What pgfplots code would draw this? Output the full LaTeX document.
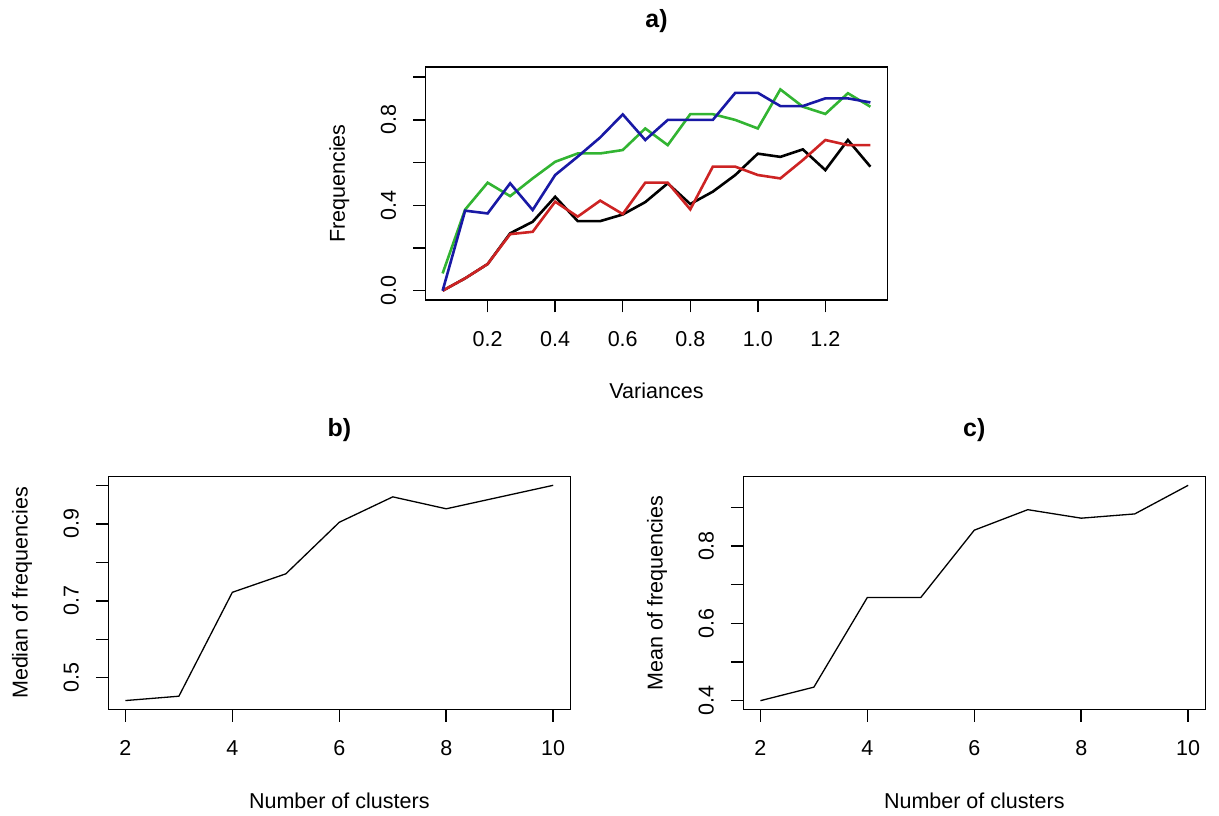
\documentclass[border=0pt]{standalone}
\usepackage{pgfplots}
\pgfplotsset{compat=1.18}
\usepackage{fontspec}
\setmainfont{Liberation Sans}
\definecolor{rred}{RGB}{205,35,35}
\definecolor{rgreen}{RGB}{50,180,50}
\definecolor{rblue}{RGB}{25,25,165}

\pgfplotstableread{
x black red green blue
0.0667 0.000 0.000 0.081 0.000
0.1333 0.058 0.058 0.380 0.375
0.2000 0.125 0.125 0.506 0.362
0.2667 0.269 0.265 0.443 0.503
0.3333 0.323 0.276 0.526 0.378
0.4000 0.440 0.417 0.604 0.542
0.4667 0.326 0.347 0.643 0.628
0.5333 0.326 0.422 0.643 0.718
0.6000 0.357 0.359 0.659 0.826
0.6667 0.415 0.506 0.760 0.706
0.7333 0.503 0.506 0.682 0.800
0.8000 0.406 0.381 0.827 0.800
0.8667 0.464 0.581 0.827 0.800
0.9333 0.542 0.581 0.800 0.927
1.0000 0.642 0.542 0.760 0.927
1.0667 0.627 0.526 0.943 0.865
1.1333 0.662 0.612 0.862 0.865
1.2000 0.565 0.706 0.828 0.901
1.2667 0.706 0.682 0.925 0.901
1.3333 0.581 0.682 0.862 0.882
}\tablea

\pgfplotstableread{
k median mean
2 0.4407 0.400
3 0.452 0.435
4 0.722 0.667
5 0.770 0.667
6 0.904 0.841
7 0.970 0.894
8 0.939 0.872
9 0.9695 0.883
10 1.000 0.957
}\tablebc

\pgfplotsset{
  rstyle/.style={
    scale only axis, width=231bp, height=116.5bp, anchor=south west,
    font=\fontsize{10.8}{13}\selectfont,
    axis line style={line width=0.75bp},
    tick style={line width=0.75bp, black},
    tick align=outside, major tick length=6.25bp, tick pos=left,
    xticklabel style={anchor=base, yshift=-16.95bp, font=\fontsize{10.8}{13}\selectfont},
    yticklabel style={rotate=90, anchor=south, inner ysep=8.25bp, inner xsep=0pt, font=\fontsize{10.8}{13}\selectfont},
    xlabel style={at={(axis description cs:0.5,0)}, anchor=base, yshift=-49.35bp},
    ylabel style={at={([xshift=-40.35bp]axis description cs:0,0.5)}, anchor=base},
    title style={at={(axis description cs:0.5,1)}, anchor=base, yshift=14bp, font=\fontsize{12.5}{15}\selectfont\bfseries},
  }
}

\begin{document}
\fontsize{10.8}{13}\selectfont
\begin{tikzpicture}
\useasboundingbox (0,0) rectangle (609.5bp,408bp);

% panel a
\begin{axis}[rstyle, at={(212.75bp,258bp)},
  xmin=0.016, xmax=1.384, ymin=-0.0435, ymax=1.048,
  xtick={0.2,0.4,0.6,0.8,1.0,1.2}, xticklabels={0.2,0.4,0.6,0.8,1.0,1.2},
  ytick={0,0.2,0.4,0.6,0.8,1.0}, yticklabels={0.0,,0.4,,0.8,},
  xlabel={Variances}, ylabel={Frequencies}, title={a)}]
\addplot[black, line width=1.3bp] table[x=x, y=black] {\tablea};
\addplot[rred, line width=1.3bp] table[x=x, y=red] {\tablea};
\addplot[rgreen, line width=1.3bp] table[x=x, y=green] {\tablea};
\addplot[rblue, line width=1.3bp] table[x=x, y=blue] {\tablea};
\end{axis}

% panel b
\begin{axis}[rstyle, at={(54.15bp,53.35bp)}, height=116.3bp,
  xmin=1.68, xmax=10.32, ymin=0.418, ymax=1.0224,
  xtick={2,4,6,8,10}, xticklabels={2,4,6,8,10},
  ytick={0.5,0.6,0.7,0.8,0.9,1.0}, yticklabels={0.5,,0.7,,0.9,},
  xlabel={Number of clusters}, ylabel={Median of frequencies}, title={b)}]
\addplot[black, line width=0.65bp] table[x=k, y=median] {\tablebc};
\end{axis}

% panel c
\begin{axis}[rstyle, at={(371.65bp,53.35bp)}, height=116.3bp,
  xmin=1.68, xmax=10.32, ymin=0.3777, ymax=0.9793,
  xtick={2,4,6,8,10}, xticklabels={2,4,6,8,10},
  ytick={0.4,0.5,0.6,0.7,0.8,0.9}, yticklabels={0.4,,0.6,,0.8,},
  xlabel={Number of clusters}, ylabel={Mean of frequencies}, title={c)}]
\addplot[black, line width=0.65bp] table[x=k, y=mean] {\tablebc};
\end{axis}
\end{tikzpicture}
\end{document}
